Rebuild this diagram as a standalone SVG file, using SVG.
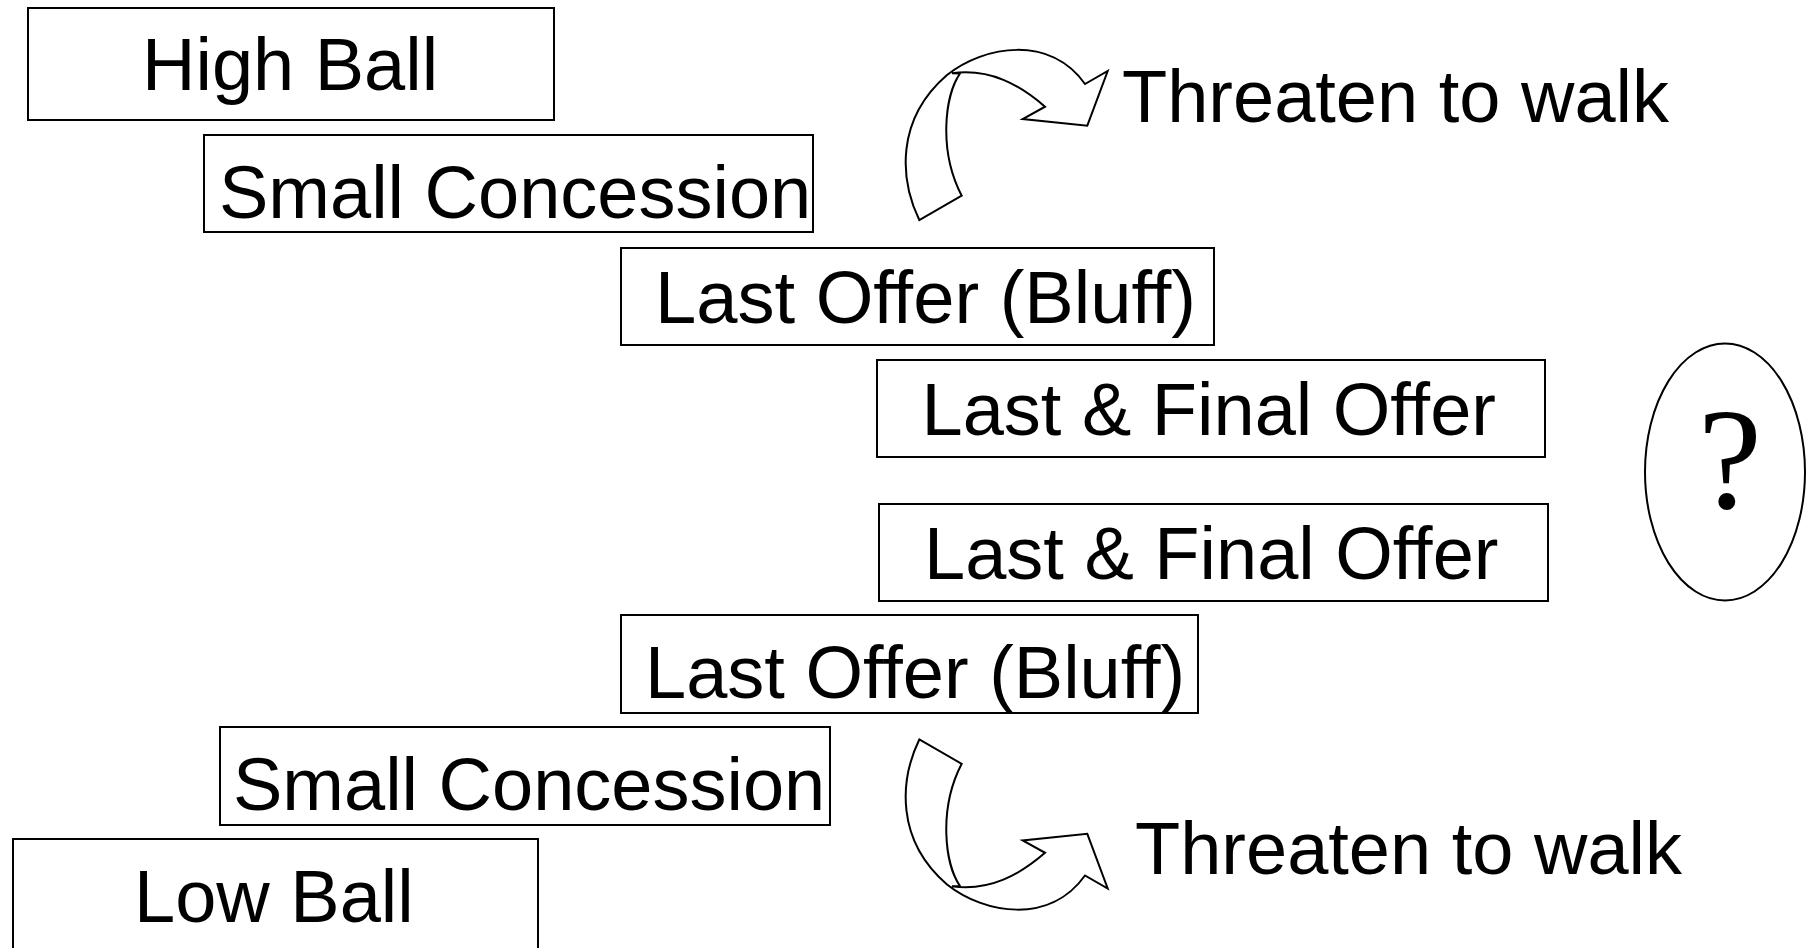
<svg xmlns="http://www.w3.org/2000/svg" xmlns:xlink="http://www.w3.org/1999/xlink" width="1807" height="948" viewBox="0 0 1807 948">
  <style>
    .box { fill: #ffffff; stroke: #000000; stroke-width: 2; }
    .label { font-family: "Liberation Sans", Arial, sans-serif; font-size: 74px; fill: #000000; }
    .turn { fill: #ffffff; stroke: #000000; stroke-width: 2; stroke-linejoin: miter; }
    .q { font-family: "Liberation Serif", "Times New Roman", serif; font-size: 144px; fill: #000000; }
  </style>
  <defs>
    <!-- curved band arrow turning up and over to the right -->
    <path id="curl" class="turn" d="M 919.3,220 C 900,180 895,120 947,75 C 985,45 1050,35 1085,84 L 1107.7,71 L 1087.3,125.7 L 1022.7,119 L 1045,106.7 C 1020,85 990,68 952,73.3 L 960,73.5 C 945,95 938,150 961.7,195.7 Z"/>
  </defs>

  <rect width="1807" height="948" fill="#ffffff"/>

  <g id="connectors">
    <use id="threat-up" xlink:href="#curl"/>
    <use id="threat-down" xlink:href="#curl" transform="translate(0,959.5) scale(1,-1)"/>
  </g>

  <g id="high-ball">
    <rect class="box" x="28" y="8" width="526" height="112"/>
    <text class="label" x="142" y="90">High Ball</text>
  </g>
  <g id="small-concession-top">
    <rect class="box" x="204" y="135" width="609" height="97"/>
    <text class="label" x="219" y="218">Small Concession</text>
  </g>
  <g id="last-offer-top">
    <rect class="box" x="621" y="248" width="593" height="97"/>
    <text class="label" x="655" y="323" textLength="541" lengthAdjust="spacingAndGlyphs">Last Offer (Bluff)</text>
  </g>
  <g id="final-offer-top">
    <rect class="box" x="877" y="360" width="668" height="97"/>
    <text class="label" x="921.5" y="435">Last &amp; Final Offer</text>
  </g>
  <g id="final-offer-bottom">
    <rect class="box" x="879" y="504" width="669" height="97"/>
    <text class="label" x="924" y="579">Last &amp; Final Offer</text>
  </g>
  <g id="last-offer-bottom">
    <rect class="box" x="621" y="615" width="577" height="98"/>
    <text class="label" x="645" y="698">Last Offer (Bluff)</text>
  </g>
  <g id="small-concession-bottom">
    <rect class="box" x="220" y="727" width="610" height="98"/>
    <text class="label" x="233" y="810">Small Concession</text>
  </g>
  <g id="low-ball">
    <rect class="box" x="13" y="839" width="525" height="125"/>
    <text class="label" x="134" y="922">Low Ball</text>
  </g>

  <g id="threaten-top">
    <text class="label" x="1122" y="122">Threaten to walk</text>
  </g>
  <g id="threaten-bottom">
    <text class="label" x="1135" y="874">Threaten to walk</text>
  </g>

  <g id="unknown">
    <ellipse cx="1725" cy="472" rx="80" ry="128.5" fill="#ffffff" stroke="#000000" stroke-width="2"/>
    <text class="q" x="1730" y="508" text-anchor="middle">?</text>
  </g>
</svg>
